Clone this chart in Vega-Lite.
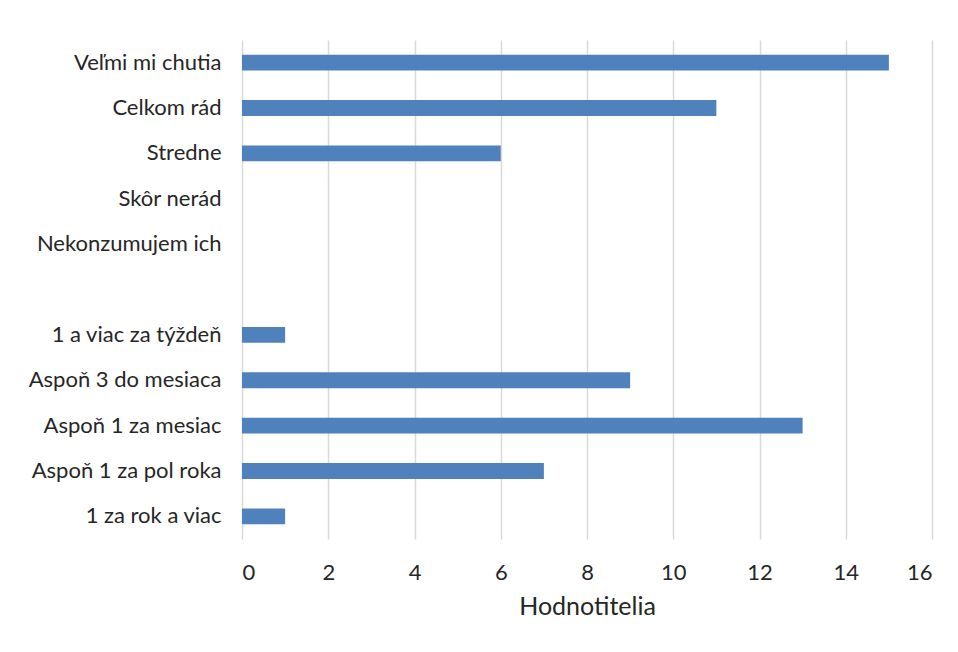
{
  "$schema": "https://vega.github.io/schema/vega-lite/v6.json",
  "width": 690,
  "height": 499,
  "autosize": "none",
  "padding": {"left": 242, "top": 40, "right": 26, "bottom": 113},
  "background": "white",
  "data": {
    "values": [
      {"kategoria": "Veľmi mi chutia", "hodnota": 15},
      {"kategoria": "Celkom rád", "hodnota": 11},
      {"kategoria": "Stredne ", "hodnota": 6},
      {"kategoria": "Skôr nerád", "hodnota": 0},
      {"kategoria": "Nekonzumujem ich", "hodnota": 0},
      {"kategoria": " ", "hodnota": 0},
      {"kategoria": "1 a viac za týždeň", "hodnota": 1},
      {"kategoria": "Aspoň 3 do mesiaca", "hodnota": 9},
      {"kategoria": "Aspoň 1 za mesiac", "hodnota": 13},
      {"kategoria": "Aspoň 1 za pol roka", "hodnota": 7},
      {"kategoria": "1 za rok a viac", "hodnota": 1}
    ]
  },
  "mark": {"type": "bar", "color": "#4f81bd", "height": {"band": 0.35}},
  "encoding": {
    "y": {
      "field": "kategoria",
      "type": "nominal",
      "sort": null,
      "scale": {"paddingInner": 0, "paddingOuter": 0},
      "axis": {
        "title": null,
        "domain": false,
        "ticks": false,
        "labelPadding": 21,
        "labelLimit": 400,
        "labelFont": "Lato",
        "labelFontSize": 22,
        "labelColor": "#262626"
      }
    },
    "x": {
      "field": "hodnota",
      "type": "quantitative",
      "scale": {"domain": [0, 16], "nice": false},
      "axis": {
        "title": "Hodnotitelia",
        "values": [0, 2, 4, 6, 8, 10, 12, 14, 16],
        "domain": false,
        "ticks": false,
        "grid": true,
        "gridColor": "#d9d9d9",
        "gridWidth": 1.5,
        "labelPadding": 23,
        "labelFont": "Lato",
        "labelFontSize": 22,
        "labelColor": "#262626",
        "titleFont": "Lato",
        "titleFontSize": 25,
        "titleFontWeight": "normal",
        "titleColor": "#262626",
        "titlePadding": 11
      }
    }
  },
  "config": {"view": {"stroke": null}}
}
